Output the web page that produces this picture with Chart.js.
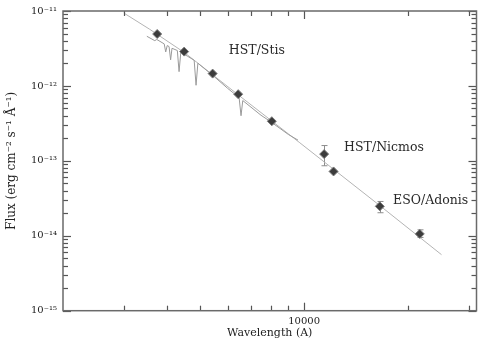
<!DOCTYPE html>
<html>
<head>
<meta charset="utf-8">
<script src="https://cdn.jsdelivr.net/npm/chart.js@4"></script>
<style>
  html, body { margin: 0; padding: 0; background: #fff; }
  #wrap { width: 485px; height: 341px; position: relative; }
</style>
</head>
<body>
<div id="wrap"><canvas id="sed"></canvas></div>
<script>
// ===================== DATA =====================
// photometry (diamonds), wavelength in A, flux in erg/cm2/s/A
const photWave = [3750, 4490, 5430, 6440, 8060, 11430, 12170, 16570, 21640];
const photFlux = [4.93e-12, 2.87e-12, 1.46e-12, 7.76e-13, 3.38e-13, 1.23e-13, 7.22e-14, 2.47e-14, 1.06e-14];
const errLow = [null, null, null, null, null, 8.6e-14, null, 2.03e-14, 9.5e-15];
const errHigh = [null, null, null, null, null, 1.6e-13, null, 2.87e-14, 1.2e-14];

// model curve
const fitWave = [3000, 3570, 4510, 6510, 9720, 16570, 25020];
const fitFlux = [9.41e-12, 5.69e-12, 2.76e-12, 7.31e-13, 1.74e-13, 2.53e-14, 5.59e-15];

// STIS spectrum with the Balmer lines
const specWave = [3500, 3690, 3740, 3930, 3970, 4010, 4060, 4102, 4140, 4290, 4340, 4390, 4600,
  4800, 4861, 4920, 5500, 6000, 6480, 6563, 6640, 7500, 8000, 9000, 9600];
const specFlux = [4.6e-12, 4.02e-12, 4.17e-12, 3.64e-12, 2.84e-12, 3.46e-12, 3.35e-12, 2.23e-12,
  3.18e-12, 2.97e-12, 1.55e-12, 2.8e-12, 2.48e-12, 2.2e-12, 1.02e-12, 2.01e-12, 1.32e-12,
  9.3e-13, 6.98e-13, 4.0e-13, 6.38e-13, 4.06e-13, 3.33e-13, 2.25e-13, 1.89e-13];

// instrument labels
const noteText = ["HST/Stis", "HST/Nicmos", "ESO/Adonis"];
const noteWave = [6050, 13060, 18110];
const noteFlux = [2.95e-12, 1.48e-13, 2.96e-14];

// axes
const xMin = 2000, xMax = 31600;
const yMin = 1e-15, yMax = 1e-11;
const xTickValues = [3000, 4000, 5000, 6000, 7000, 8000, 9000, 10000, 20000, 30000];
const xMajorValues = [10000];
const yTickValues = [1e-15, 1e-14, 1e-13, 1e-12, 1e-11];
const yTickLabels = ["10⁻¹⁵", "10⁻¹⁴", "10⁻¹³", "10⁻¹²", "10⁻¹¹"];
const yMinorSteps = [2, 3, 4, 5, 6, 7, 8, 9];

const pts = (xs, ys) => xs.map((x, i) => ({ x, y: ys[i] }));

// ===================== PLUGINS =====================
const errorBars = {
  id: "errorBars",
  beforeDatasetsDraw(chart) {
    const { ctx, scales: { x, y } } = chart;
    ctx.save();
    ctx.strokeStyle = "#8c8c8c";
    ctx.lineWidth = 1;
    photWave.forEach((w, i) => {
      if (errLow[i] == null) return;
      const px = Math.round(x.getPixelForValue(w)) + 0.5;
      const lo = y.getPixelForValue(errLow[i]);
      const hi = y.getPixelForValue(errHigh[i]);
      ctx.beginPath();
      ctx.moveTo(px, lo); ctx.lineTo(px, hi);
      ctx.moveTo(px - 3, lo); ctx.lineTo(px + 3, lo);
      ctx.moveTo(px - 3, hi); ctx.lineTo(px + 3, hi);
      ctx.stroke();
    });
    ctx.restore();
  },
};

function seg(ctx, x1, y1, x2, y2) {
  ctx.beginPath();
  ctx.moveTo(x1, y1);
  ctx.lineTo(x2, y2);
  ctx.stroke();
}

const frame = {
  id: "frame",
  afterDraw(chart) {
    const { ctx, chartArea: a, scales: { x, y } } = chart;
    ctx.save();
    ctx.strokeStyle = "#555555";
    ctx.lineWidth = 1.2;
    xTickValues.forEach((v) => {
      const px = Math.round(x.getPixelForValue(v)) + 0.5;
      const len = xMajorValues.includes(v) ? 8 : 5;
      seg(ctx, px, a.bottom, px, a.bottom - len);
      seg(ctx, px, a.top, px, a.top + len);
    });
    yTickValues.forEach((d) => {
      const py = Math.round(y.getPixelForValue(d)) + 0.5;
      seg(ctx, a.left, py, a.left + 8, py);
      seg(ctx, a.right, py, a.right - 8, py);
      if (d >= yMax) return;
      yMinorSteps.forEach((m) => {
        const q = Math.round(y.getPixelForValue(d * m)) + 0.5;
        seg(ctx, a.left, q, a.left + 5, q);
        seg(ctx, a.right, q, a.right - 5, q);
      });
    });
    ctx.strokeStyle = "#6a6a6a";
    ctx.lineWidth = 1.5;
    ctx.strokeRect(a.left, a.top, a.right - a.left, a.bottom - a.top);

    // instrument labels
    ctx.fillStyle = "#2a2a2a";
    ctx.font = "12.5px 'DejaVu Serif'";
    ctx.textAlign = "left";
    ctx.textBaseline = "middle";
    noteText.forEach((t, i) => {
      ctx.fillText(t, x.getPixelForValue(noteWave[i]), y.getPixelForValue(noteFlux[i]));
    });
    ctx.restore();
  },
};

// ===================== CHART =====================
new Chart(document.getElementById("sed"), {
  type: "scatter",
  data: {
    datasets: [
      {
        data: pts(photWave, photFlux),
        pointStyle: "rectRot",
        pointRadius: 4.5,
        backgroundColor: "#3c3c3c",
        borderColor: "#7a7a7a",
        borderWidth: 1,
        order: 0,
      },
      {
        data: pts(specWave, specFlux),
        showLine: true,
        pointRadius: 0,
        borderColor: "#9a9a9a",
        borderWidth: 1,
        order: 1,
      },
      {
        data: pts(fitWave, fitFlux),
        showLine: true,
        pointRadius: 0,
        borderColor: "#b4b4b4",
        borderWidth: 1,
        order: 2,
      },
    ],
  },
  options: {
    responsive: true,
    maintainAspectRatio: false,
    animation: false,
    events: [],
    layout: { padding: { left: 0, top: 5, right: 8.5, bottom: 0 } },
    plugins: { legend: { display: false }, tooltip: { enabled: false } },
    scales: {
      x: {
        type: "logarithmic",
        min: xMin,
        max: xMax,
        grid: { display: false, drawTicks: false },
        border: { display: false },
        afterBuildTicks: (s) => { s.ticks = xTickValues.map((v) => ({ value: v })); },
        afterFit: (s) => { s.height = 30.3; },
        ticks: {
          autoSkip: false,
          maxRotation: 0,
          padding: 6,
          color: "#222",
          font: { family: "DejaVu Serif", size: 10, lineHeight: 1 },
          callback: (v) => (xMajorValues.includes(v) ? String(v) : ""),
        },
        title: {
          display: true,
          text: "Wavelength (A)",
          color: "#222",
          font: { family: "DejaVu Serif", size: 11 },
          padding: { top: 0, bottom: 1 },
        },
      },
      y: {
        type: "logarithmic",
        min: yMin,
        max: yMax,
        grid: { display: false, drawTicks: false },
        border: { display: false },
        afterBuildTicks: (s) => { s.ticks = yTickValues.map((v) => ({ value: v })); },
        afterFit: (s) => { s.width = 63; },
        ticks: {
          autoSkip: false,
          padding: 6,
          color: "#222",
          font: { family: "DejaVu Serif", size: 10, lineHeight: 1 },
          callback: (v, i) => yTickLabels[i],
        },
        title: {
          display: true,
          text: "Flux (erg cm⁻² s⁻¹ Å⁻¹)",
          color: "#222",
          font: { family: "DejaVu Serif", size: 12 },
          padding: { top: 4.5, bottom: 0 },
        },
      },
    },
  },
  plugins: [errorBars, frame],
});
</script>
</body>
</html>
